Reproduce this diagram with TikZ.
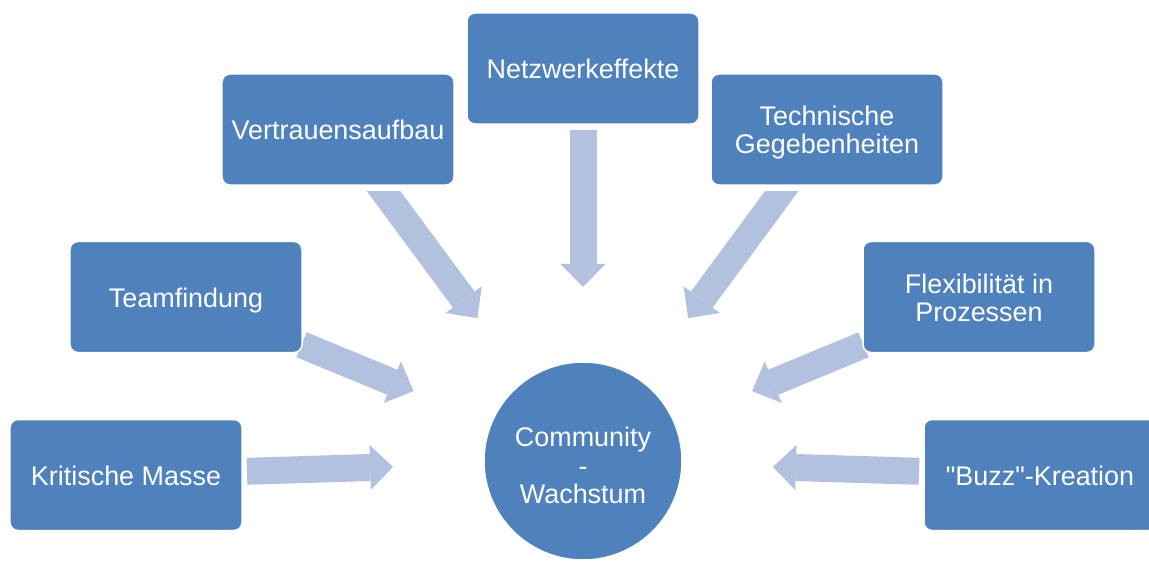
\documentclass[tikz,border=0pt]{standalone}
\usepackage{fontspec}
\setmainfont{Liberation Sans}[Ligatures=TeXOff]
\usetikzlibrary{arrows.meta, backgrounds}

\definecolor{boxblue}{HTML}{4F81BD}
\definecolor{arrowblue}{HTML}{B2C1DD}

\tikzset{
    factor/.style={rectangle, rounded corners=0.24cm, fill=boxblue, draw=white,
        line width=0.045cm, text=white, align=center,
        minimum width=6.96cm, minimum height=3.33cm,
        text height=0.6cm, text depth=0cm,
        font=\fontsize{23}{24}\selectfont},
    twolines/.style={text height=1.45cm},
    hub/.style={circle, fill=boxblue, draw=white, line width=0.045cm,
        text=white, align=center, minimum size=5.94cm, inner sep=0pt,
        text height=2.53cm, text depth=0cm,
        font=\fontsize{23}{24}\selectfont},
    push/.style={draw=arrowblue, line width=0.81cm,
        -{Triangle[length=0.69cm, width=1.35cm, line width=0pt]}}
}

\begin{document}
\begin{tikzpicture}[x=0.03cm, y=-0.03cm]
\useasboundingbox (0,0) rectangle (1149,563);

% factors around the centre
\node[factor] (masse) at (126,475) {Kritische Masse};
\node[factor] (team) at (186,297) {Teamfindung};
\node[factor] (vertrauen) at (338,129.5) {Vertrauensaufbau};
\node[factor] (netz) at (583,68.5) {Netzwerkeffekte};
\node[factor, twolines] (technik) at (827,129.5) {Technische\\Gegebenheiten};
\node[factor, twolines] (flex) at (979,297) {Flexibilität in\\Prozessen};
\node[factor] (buzz) at (1040,475) {"Buzz"-Kreation};

% centre
\node[hub] (wachstum) at (583,461) {Community\\-\\Wachstum};

% arrows, kept behind the boxes
\begin{scope}[on background layer]
    \draw[push, shorten <=3.63cm, shorten >=5.7cm] (masse.center) -- (wachstum.center);
    \draw[push, shorten <=3.75cm, shorten >=5.5cm] (team.center) -- (wachstum.center);
    \draw[push, shorten <=1.85cm, shorten >=5.22cm] (netz.center) -- (wachstum.center);
    \draw[push, shorten <=3.75cm, shorten >=5.49cm] (flex.center) -- (wachstum.center);
    \draw[push, shorten <=3.63cm, shorten >=5.7cm] (buzz.center) -- (wachstum.center);
    % slanted tails cut level
    \begin{scope}
        \clip (0,191) rectangle (1149,563);
        \draw[push, shorten <=1.8cm, shorten >=5.33cm] (vertrauen.center) -- (wachstum.center);
        \draw[push, shorten <=1.8cm, shorten >=5.32cm] (technik.center) -- (wachstum.center);
    \end{scope}
\end{scope}

\end{tikzpicture}
\end{document}
